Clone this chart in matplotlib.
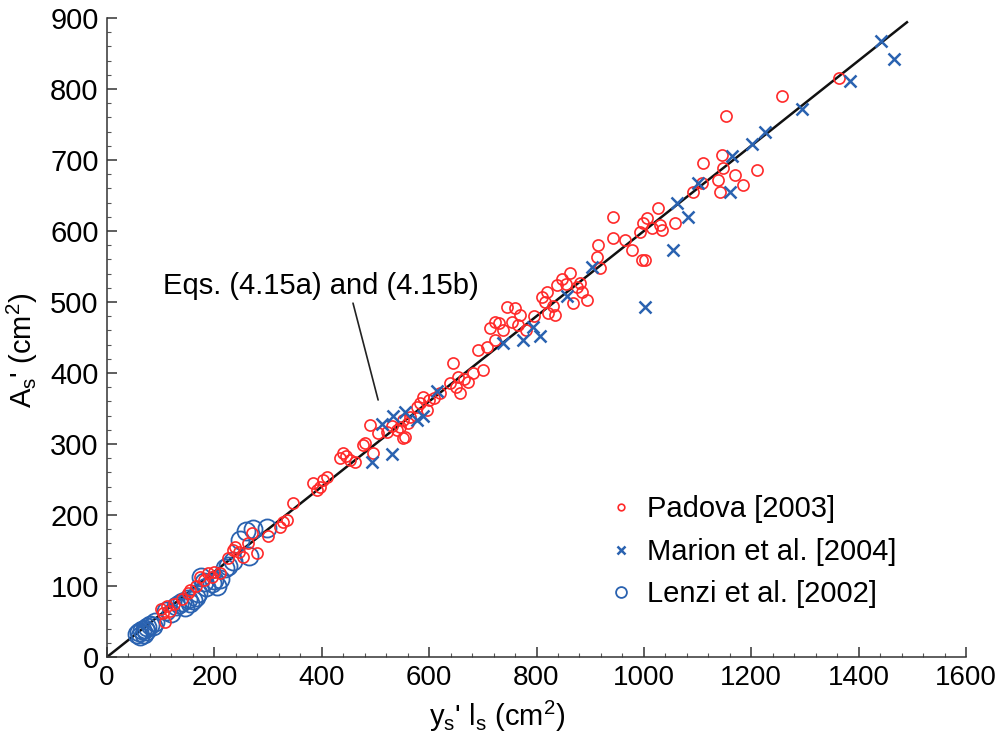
import matplotlib
matplotlib.use("Agg")
import matplotlib.pyplot as plt
from matplotlib.ticker import MultipleLocator
import numpy as np

plt.rcParams['font.family'] = ['Liberation Sans', 'DejaVu Sans']
plt.rcParams['mathtext.fontset'] = 'custom'
plt.rcParams['mathtext.rm'] = 'Liberation Sans'

# Padova [2003]
padova_x = [100, 105, 108, 112, 118, 125, 140, 150, 155, 165, 173, 180, 188, 195, 200,
            210, 225, 235, 238, 245, 253, 262, 270, 279, 300, 322, 328, 335, 346, 384,
            391, 397, 402, 409, 434, 440, 445, 452, 462, 477, 481, 490, 495, 505, 521,
            530, 540, 546, 551, 551, 555, 560, 565, 577, 583, 589, 596, 600, 610, 620,
            639, 645, 650, 654, 657, 665, 673, 682, 691, 700, 707, 714, 723, 723, 730,
            738, 745, 754, 760, 766, 769, 780, 795, 810, 815, 819, 821, 830, 834, 838,
            847, 855, 862, 868, 875, 881, 884, 894, 912, 915, 918, 943, 943, 965, 978,
            996, 1002, 993, 998, 1005, 1015, 1026, 1030, 1033, 1058, 1091, 1108, 1110, 1138, 1142,
            1145, 1147, 1153, 1169, 1184, 1210, 1257, 1363]
padova_y = [68, 62, 49, 72, 65, 75, 82, 90, 94, 100, 113, 108, 118, 112, 120,
            118, 140, 151, 155, 148, 141, 160, 175, 147, 170, 183, 190, 193, 217, 245,
            235, 240, 249, 253, 280, 287, 283, 277, 275, 298, 301, 327, 287, 315, 317,
            325, 320, 324, 334, 308, 310, 330, 338, 352, 358, 366, 348, 362, 365, 372,
            386, 414, 380, 394, 372, 392, 387, 400, 432, 404, 437, 463, 446, 472, 470,
            460, 493, 472, 491, 468, 482, 460, 480, 507, 500, 514, 484, 495, 482, 524,
            533, 525, 541, 499, 521, 527, 514, 503, 563, 580, 548, 620, 590, 587, 573,
            559, 559, 599, 611, 618, 604, 632, 608, 601, 611, 655, 668, 696, 672, 655,
            707, 689, 762, 679, 665, 686, 790, 815]

# Marion et al. [2004]
marion_x = [493, 512, 531, 533, 555, 577, 588, 614, 737, 775, 793, 806, 857, 903,
            1002, 1054, 1061, 1082, 1101, 1160, 1164, 1201, 1225, 1294, 1384, 1442, 1466]
marion_y = [274, 328, 286, 340, 345, 334, 340, 375, 442, 446, 465, 452, 508, 550,
            493, 573, 640, 620, 668, 655, 705, 722, 740, 772, 811, 867, 842]

# Lenzi et al. [2002]
lenzi_x = [55, 60, 62, 65, 68, 70, 72, 75, 80, 85, 90, 110, 120, 128, 135, 140, 145,
           150, 155, 160, 165, 170, 175, 180, 185, 195, 200, 205, 210, 220, 225, 235,
           248, 258, 265, 272, 298]
lenzi_y = [32, 35, 30, 38, 33, 40, 36, 42, 45, 43, 50, 65, 62, 72, 75, 78, 70,
           82, 76, 80, 85, 90, 112, 105, 98, 104, 108, 100, 110, 125, 128, 135,
           165, 178, 142, 180, 182]

# Eqs. (4.15a) and (4.15b)
eq_x = np.array([0, 1490])
eq_slope = 0.6

red = '#ff2a2a'
blue = '#2a62b0'

fig = plt.figure(figsize=(9.98, 7.38), dpi=100)
ax = fig.add_axes([107/998, 1 - 657/738, 859/998, 639/738])

ax.plot(eq_x, eq_slope * eq_x, color='#111111', lw=1.8, zorder=1)
ax.plot(padova_x, padova_y, 'o', ms=8, mfc='none', mec=red, mew=1.2,
        label='Padova [2003]', zorder=3)
ax.plot(marion_x, marion_y, 'x', ms=9, mec=blue, mew=1.8,
        label='Marion et al. [2004]', zorder=4)
ax.plot(lenzi_x, lenzi_y, 'o', ms=13, mfc='none', mec=blue, mew=1.3,
        label='Lenzi et al. [2002]', zorder=2)

ax.annotate('Eqs. (4.15a) and (4.15b)', xy=(505, 362), xytext=(104, 522),
            fontsize=21, va='center', ha='left',
            arrowprops=dict(arrowstyle='-', color='#222222', lw=1.2,
                            shrinkA=0, shrinkB=0, relpos=(0.6, 0)))

ax.set_xlim(0, 1600)
ax.set_ylim(0, 900)
ax.xaxis.set_major_locator(MultipleLocator(200))
ax.yaxis.set_major_locator(MultipleLocator(100))
ax.xaxis.set_minor_locator(MultipleLocator(40))
ax.yaxis.set_minor_locator(MultipleLocator(20))
ax.tick_params(which='major', direction='in', length=7, width=1.1, color='#333333')
ax.tick_params(which='minor', direction='in', length=3, width=0.8, color='#555555')
ax.tick_params(axis='y', labelsize=21, pad=6)
ax.tick_params(axis='x', labelsize=20, pad=6)

for side in ['top', 'right']:
    ax.spines[side].set_visible(False)
for side in ['left', 'bottom']:
    ax.spines[side].set_color('#333333')
    ax.spines[side].set_linewidth(1.1)

ax.set_xlabel(r"y$_\mathregular{s}$' l$_\mathregular{s}$ (cm$^\mathregular{2}$)", fontsize=21)
ax.xaxis.set_label_coords(0.454, -0.065)
ax.set_ylabel(r"A$_\mathregular{s}$' (cm$^\mathregular{2}$)", fontsize=21)
ax.yaxis.set_label_coords(-0.078, 0.48)

leg = ax.legend(loc='lower right', bbox_to_anchor=(0.95, 0.035), frameon=False,
                fontsize=21, handlelength=0.6, handletextpad=0.6, labelspacing=0.5,
                markerscale=0.6)

fig.savefig('out.png', dpi=100)
